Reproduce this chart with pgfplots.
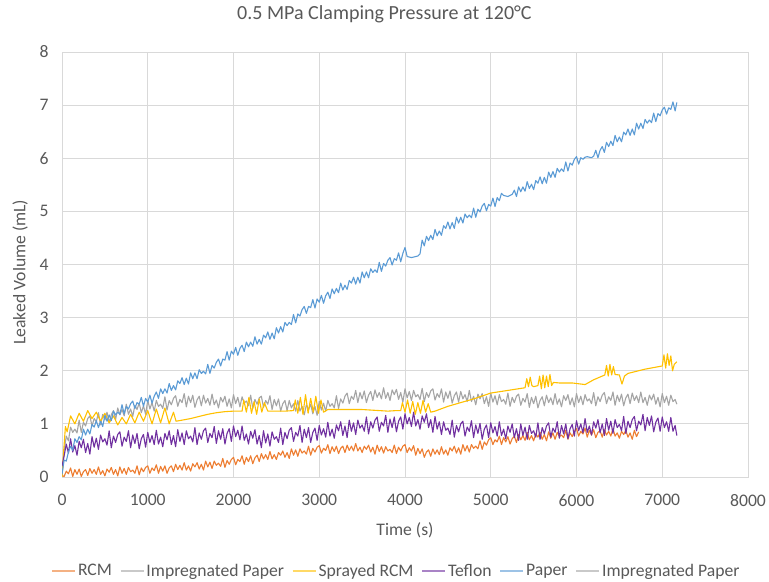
\documentclass[border=0pt]{standalone}
\usepackage{fontspec}
\setmainfont{Carlito}
\usepackage{pgfplots}
\pgfplotsset{compat=1.18}
\definecolor{cOr}{HTML}{ED7D31}
\definecolor{cGr}{HTML}{A5A5A5}
\definecolor{cYe}{HTML}{FFC000}
\definecolor{cPu}{HTML}{7030A0}
\definecolor{cBl}{HTML}{5B9BD5}
\definecolor{cTx}{HTML}{595959}
\definecolor{cGd}{HTML}{D9D9D9}
\begin{document}
\begin{tikzpicture}
\begin{axis}[
  scale only axis, width=686bp, height=425bp,
  xmin=0, xmax=8000, ymin=0, ymax=8,
  xtick={0,1000,...,8000}, ytick={0,1,...,8},
  /pgf/number format/assume math mode=true,
  /pgf/number format/set thousands separator={},
  scaled x ticks=false,
  grid=major, major grid style={cGd, line width=0.75bp},
  axis line style={cGd, line width=0.75bp},
  tick style={draw=none},
  ticklabel style={font=\fontsize{17.7}{21}\selectfont, text=cTx},
  xticklabel style={yshift=-14bp},
  yticklabel style={xshift=-10bp},
  title={0.5 MPa Clamping Pressure at 120°C},
  title style={font=\fontsize{20.1}{24}\selectfont, text=cTx, at={(axis description cs:0.47,1.075)}, anchor=center},
  xlabel={Time (s)},
  xlabel style={font=\fontsize{17.7}{21}\selectfont, text=cTx, at={(axis description cs:0.5,-0.125)}, anchor=center},
  ylabel={Leaked Volume (mL)},
  ylabel style={font=\fontsize{17.7}{21}\selectfont, text=cTx, at={(axis description cs:-0.061,0.482)}, anchor=center},
  legend columns=6,
  legend style={draw=none, fill=none, font=\fontsize{17.7}{21}\selectfont, text=cTx,
    at={(axis description cs:0.4876,-0.221)}, anchor=center,
    /tikz/every even column/.append style={column sep=6bp}},
  legend image code/.code={\draw[#1, line width=1.6bp, opacity=0.6] (0bp,0bp) -- (23bp,0bp);},
  every axis plot/.append style={line width=1.1bp, line join=round},
]
% RCM
\addplot[cOr] coordinates {
(0,0.03)(25,0.01)(50,0.11)(75,0.06)(100,0.17)(125,0.01)(150,0.14)(175,0.05)(200,0.15)(225,0.01)
(250,0.10)(275,0.14)(300,0.03)(325,0.16)(350,0.07)(375,0.14)(400,0.05)(425,0.19)(450,0.05)(475,0.12)
(500,0.02)(525,0.15)(550,0.09)(575,0.18)(600,0.05)(625,0.14)(650,0.02)(675,0.19)(700,0.07)(725,0.16)
(750,0.05)(775,0.18)(800,0.10)(825,0.13)(850,0.07)(875,0.21)(900,0.04)(925,0.17)(950,0.10)(975,0.18)
(1000,0.21)(1025,0.07)(1050,0.17)(1075,0.12)(1100,0.23)(1125,0.07)(1150,0.20)(1175,0.11)(1200,0.21)(1225,0.07)
(1250,0.17)(1275,0.21)(1300,0.10)(1325,0.24)(1350,0.14)(1375,0.22)(1400,0.13)(1425,0.27)(1450,0.13)(1475,0.21)
(1500,0.11)(1525,0.25)(1550,0.19)(1575,0.27)(1600,0.15)(1625,0.24)(1650,0.13)(1675,0.30)(1700,0.19)(1725,0.28)
(1750,0.16)(1775,0.30)(1800,0.22)(1825,0.26)(1850,0.20)(1875,0.35)(1900,0.18)(1925,0.31)(1950,0.24)(1975,0.33)
(2000,0.37)(2025,0.23)(2050,0.33)(2075,0.29)(2100,0.40)(2125,0.24)(2150,0.37)(2175,0.29)(2200,0.40)(2225,0.25)
(2250,0.36)(2275,0.41)(2300,0.29)(2325,0.44)(2350,0.34)(2375,0.42)(2400,0.33)(2425,0.48)(2450,0.34)(2475,0.42)
(2500,0.33)(2525,0.46)(2550,0.41)(2575,0.49)(2600,0.37)(2625,0.46)(2650,0.35)(2675,0.53)(2700,0.41)(2725,0.51)
(2750,0.39)(2775,0.53)(2800,0.45)(2825,0.49)(2850,0.43)(2875,0.58)(2900,0.41)(2925,0.54)(2950,0.47)(2975,0.56)
(3000,0.59)(3025,0.45)(3050,0.54)(3075,0.50)(3100,0.61)(3125,0.44)(3150,0.57)(3175,0.48)(3200,0.58)(3225,0.44)
(3250,0.54)(3275,0.58)(3300,0.46)(3325,0.60)(3350,0.50)(3375,0.58)(3400,0.49)(3425,0.63)(3450,0.49)(3475,0.56)
(3500,0.46)(3525,0.58)(3550,0.52)(3575,0.60)(3600,0.47)(3625,0.56)(3650,0.43)(3675,0.60)(3700,0.48)(3725,0.57)
(3750,0.45)(3775,0.57)(3800,0.49)(3825,0.52)(3850,0.46)(3875,0.60)(3900,0.44)(3925,0.56)(3950,0.49)(3975,0.58)
(4000,0.61)(4025,0.46)(4050,0.55)(4075,0.49)(4100,0.59)(4125,0.41)(4150,0.54)(4175,0.44)(4200,0.53)(4225,0.37)
(4250,0.47)(4275,0.51)(4300,0.39)(4325,0.53)(4350,0.43)(4375,0.51)(4400,0.42)(4425,0.57)(4450,0.43)(4475,0.51)
(4500,0.41)(4525,0.55)(4550,0.49)(4575,0.58)(4600,0.45)(4625,0.55)(4650,0.43)(4675,0.61)(4700,0.49)(4725,0.59)
(4750,0.47)(4775,0.61)(4800,0.54)(4825,0.58)(4850,0.53)(4875,0.68)(4900,0.52)(4925,0.66)(4950,0.60)(4975,0.70)
(5000,0.74)(5025,0.61)(5050,0.70)(5075,0.66)(5100,0.77)(5125,0.61)(5150,0.74)(5175,0.66)(5200,0.76)(5225,0.62)
(5250,0.72)(5275,0.77)(5300,0.65)(5325,0.80)(5350,0.70)(5375,0.78)(5400,0.69)(5425,0.84)(5450,0.70)(5475,0.78)
(5500,0.68)(5525,0.81)(5550,0.75)(5575,0.84)(5600,0.71)(5625,0.80)(5650,0.68)(5675,0.85)(5700,0.73)(5725,0.83)
(5750,0.71)(5775,0.84)(5800,0.76)(5825,0.79)(5850,0.74)(5875,0.88)(5900,0.71)(5925,0.83)(5950,0.76)(5975,0.86)
(6000,0.91)(6025,0.77)(6050,0.86)(6075,0.81)(6100,0.92)(6125,0.75)(6150,0.88)(6175,0.79)(6200,0.89)(6225,0.74)
(6250,0.84)(6275,0.87)(6300,0.75)(6325,0.89)(6350,0.79)(6375,0.86)(6400,0.77)(6425,0.91)(6450,0.77)(6475,0.83)
(6500,0.73)(6525,0.86)(6550,0.80)(6575,0.88)(6600,0.75)(6625,0.83)(6650,0.71)(6675,0.88)(6700,0.76)(6725,0.85)
};
% Impregnated Paper
\addplot[cGr] coordinates {
(0,0.00)(25,0.50)(50,0.77)(75,0.68)(100,0.94)(125,0.84)(150,0.90)(175,0.83)(200,1.07)(225,0.84)
(250,1.03)(275,0.96)(300,1.10)(325,1.15)(350,0.96)(375,1.10)(400,1.04)(425,1.21)(450,0.98)(475,1.18)
(500,1.07)(525,1.22)(550,1.02)(575,1.17)(600,1.25)(625,1.08)(650,1.30)(675,1.17)(700,1.27)(725,1.15)
(750,1.37)(775,1.18)(800,1.28)(825,1.14)(850,1.35)(875,1.27)(900,1.39)(925,1.21)(950,1.34)(975,1.18)
(1000,1.44)(1025,1.28)(1050,1.40)(1075,1.24)(1100,1.44)(1125,1.33)(1150,1.37)(1175,1.29)(1200,1.51)(1225,1.26)
(1250,1.44)(1275,1.36)(1300,1.48)(1325,1.53)(1350,1.33)(1375,1.46)(1400,1.40)(1425,1.57)(1450,1.32)(1475,1.52)
(1500,1.40)(1525,1.54)(1550,1.31)(1575,1.45)(1600,1.52)(1625,1.34)(1650,1.54)(1675,1.39)(1700,1.48)(1725,1.35)
(1750,1.56)(1775,1.36)(1800,1.45)(1825,1.30)(1850,1.50)(1875,1.41)(1900,1.52)(1925,1.33)(1950,1.47)(1975,1.30)
(2000,1.55)(2025,1.38)(2050,1.50)(2075,1.32)(2100,1.51)(2125,1.39)(2150,1.43)(2175,1.34)(2200,1.54)(2225,1.29)
(2250,1.46)(2275,1.37)(2300,1.49)(2325,1.52)(2350,1.31)(2375,1.44)(2400,1.37)(2425,1.53)(2450,1.27)(2475,1.46)
(2500,1.34)(2525,1.47)(2550,1.24)(2575,1.38)(2600,1.44)(2625,1.25)(2650,1.44)(2675,1.30)(2700,1.38)(2725,1.24)
(2750,1.44)(2775,1.24)(2800,1.33)(2825,1.17)(2850,1.36)(2875,1.27)(2900,1.37)(2925,1.19)(2950,1.33)(2975,1.16)
(3000,1.42)(3025,1.26)(3050,1.39)(3075,1.24)(3100,1.44)(3125,1.33)(3150,1.38)(3175,1.30)(3200,1.53)(3225,1.29)
(3250,1.47)(3275,1.39)(3300,1.52)(3325,1.58)(3350,1.38)(3375,1.52)(3400,1.46)(3425,1.63)(3450,1.40)(3475,1.59)
(3500,1.47)(3525,1.62)(3550,1.40)(3575,1.54)(3600,1.61)(3625,1.44)(3650,1.64)(3675,1.50)(3700,1.59)(3725,1.47)
(3750,1.68)(3775,1.48)(3800,1.59)(3825,1.44)(3850,1.64)(3875,1.55)(3900,1.65)(3925,1.46)(3950,1.59)(3975,1.41)
(4000,1.66)(4025,1.49)(4050,1.61)(4075,1.44)(4100,1.63)(4125,1.51)(4150,1.55)(4175,1.46)(4200,1.67)(4225,1.42)
(4250,1.59)(4275,1.50)(4300,1.62)(4325,1.66)(4350,1.45)(4375,1.57)(4400,1.50)(4425,1.66)(4450,1.41)(4475,1.60)
(4500,1.48)(4525,1.62)(4550,1.39)(4575,1.53)(4600,1.60)(4625,1.41)(4650,1.61)(4675,1.47)(4700,1.55)(4725,1.42)
(4750,1.63)(4775,1.42)(4800,1.52)(4825,1.36)(4850,1.56)(4875,1.47)(4900,1.57)(4925,1.38)(4950,1.51)(4975,1.33)
(5000,1.58)(5025,1.41)(5050,1.53)(5075,1.36)(5100,1.55)(5125,1.42)(5150,1.46)(5175,1.37)(5200,1.58)(5225,1.33)
(5250,1.50)(5275,1.40)(5300,1.52)(5325,1.56)(5350,1.35)(5375,1.48)(5400,1.41)(5425,1.57)(5450,1.31)(5475,1.50)
(5500,1.38)(5525,1.52)(5550,1.30)(5575,1.44)(5600,1.51)(5625,1.34)(5650,1.54)(5675,1.40)(5700,1.49)(5725,1.36)
(5750,1.57)(5775,1.37)(5800,1.47)(5825,1.32)(5850,1.53)(5875,1.44)(5900,1.55)(5925,1.36)(5950,1.49)(5975,1.32)
(6000,1.57)(6025,1.40)(6050,1.52)(6075,1.36)(6100,1.55)(6125,1.43)(6150,1.47)(6175,1.38)(6200,1.59)(6225,1.34)
(6250,1.51)(6275,1.42)(6300,1.54)(6325,1.59)(6350,1.38)(6375,1.51)(6400,1.44)(6425,1.60)(6450,1.35)(6475,1.54)
(6500,1.42)(6525,1.56)(6550,1.34)(6575,1.49)(6600,1.56)(6625,1.38)(6650,1.58)(6675,1.44)(6700,1.53)(6725,1.40)
(6750,1.60)(6775,1.40)(6800,1.50)(6825,1.35)(6850,1.54)(6875,1.45)(6900,1.56)(6925,1.37)(6950,1.50)(6975,1.32)
(7000,1.57)(7025,1.40)(7050,1.52)(7075,1.35)(7100,1.54)(7125,1.42)(7150,1.46)(7170,1.37)
};
% Sprayed RCM
\addplot[cYe] coordinates {
(0,0)(20,0.50)(40,0.95)(60,0.85)(100,1.15)(150,1.00)(200,1.20)(250,1.05)(300,1.25)(350,1.10)
(400,1.22)(450,1.05)(500,1.20)(550,1.02)(600,1.15)(650,0.98)(700,1.12)(750,1.00)(800,1.18)(850,1.02)
(900,1.22)(950,1.05)(1000,1.25)(1050,1.00)(1100,1.28)(1150,1.02)(1200,1.30)(1250,1.00)(1300,1.22)(1330,1.05)
(1400,1.07)(1500,1.10)(1600,1.14)(1700,1.18)(1800,1.21)(1900,1.23)(2000,1.24)(2100,1.24)(2120,1.45)(2150,1.22)
(2180,1.50)(2210,1.20)(2240,1.42)(2270,1.18)(2300,1.47)(2330,1.22)(2360,1.40)(2400,1.24)(2500,1.24)(2600,1.24)
(2700,1.25)(2720,1.45)(2750,1.20)(2780,1.50)(2810,1.18)(2840,1.55)(2870,1.20)(2900,1.48)(2930,1.22)(2960,1.52)
(2990,1.20)(3020,1.45)(3050,1.22)(3100,1.27)(3300,1.27)(3500,1.27)(3700,1.25)(3800,1.24)(3900,1.25)(3950,1.25)
(3970,1.40)(4000,1.22)(4030,1.45)(4060,1.20)(4090,1.42)(4120,1.18)(4150,1.40)(4180,1.20)(4210,1.44)(4240,1.22)
(4270,1.38)(4300,1.22)(4350,1.24)(4500,1.33)(4670,1.41)(4800,1.47)(5000,1.58)(5200,1.63)(5400,1.68)(5420,1.85)
(5440,1.70)(5460,1.88)(5480,1.72)(5500,1.70)(5550,1.72)(5570,1.90)(5590,1.66)(5610,1.92)(5630,1.68)(5650,1.90)
(5670,1.70)(5690,1.93)(5710,1.72)(5730,1.78)(5800,1.77)(5950,1.77)(6100,1.74)(6200,1.83)(6300,1.90)(6330,1.92)
(6350,2.10)(6370,1.90)(6390,2.12)(6410,1.92)(6430,2.08)(6450,1.93)(6500,1.92)(6530,1.75)(6560,1.90)(6600,1.95)
(6700,1.99)(6800,2.03)(6900,2.06)(7000,2.09)(7020,2.30)(7040,2.05)(7060,2.32)(7080,2.10)(7100,2.28)(7120,2.00)
(7140,2.12)(7170,2.17)
};
% Teflon
\addplot[cPu] coordinates {
(0,0.20)(25,0.40)(50,0.62)(75,0.45)(100,0.72)(125,0.47)(150,0.59)(175,0.41)(200,0.67)(225,0.55)
(250,0.71)(275,0.46)(300,0.63)(325,0.43)(350,0.76)(375,0.56)(400,0.73)(425,0.52)(450,0.79)(475,0.66)
(500,0.72)(525,0.60)(550,0.87)(575,0.55)(600,0.77)(625,0.65)(650,0.80)(675,0.85)(700,0.58)(725,0.75)
(750,0.67)(775,0.87)(800,0.55)(825,0.79)(850,0.63)(875,0.82)(900,0.53)(925,0.72)(950,0.80)(975,0.56)
(1000,0.84)(1025,0.65)(1050,0.78)(1075,0.61)(1100,0.88)(1125,0.62)(1150,0.75)(1175,0.57)(1200,0.82)(1225,0.70)
(1250,0.87)(1275,0.61)(1300,0.78)(1325,0.57)(1350,0.89)(1375,0.67)(1400,0.83)(1425,0.61)(1450,0.87)(1475,0.72)
(1500,0.77)(1525,0.66)(1550,0.93)(1575,0.61)(1600,0.83)(1625,0.71)(1650,0.87)(1675,0.92)(1700,0.65)(1725,0.82)
(1750,0.74)(1775,0.95)(1800,0.63)(1825,0.87)(1850,0.71)(1875,0.91)(1900,0.62)(1925,0.82)(1950,0.91)(1975,0.67)
(2000,0.96)(2025,0.76)(2050,0.88)(2075,0.70)(2100,0.96)(2125,0.69)(2150,0.81)(2175,0.62)(2200,0.86)(2225,0.73)
(2250,0.89)(2275,0.62)(2300,0.78)(2325,0.55)(2350,0.87)(2375,0.64)(2400,0.81)(2425,0.58)(2450,0.85)(2475,0.71)
(2500,0.76)(2525,0.65)(2550,0.92)(2575,0.61)(2600,0.84)(2625,0.72)(2650,0.88)(2675,0.93)(2700,0.67)(2725,0.84)
(2750,0.77)(2775,0.97)(2800,0.65)(2825,0.90)(2850,0.74)(2875,0.93)(2900,0.65)(2925,0.84)(2950,0.92)(2975,0.69)
(3000,0.97)(3025,0.79)(3050,0.91)(3075,0.75)(3100,1.03)(3125,0.77)(3150,0.90)(3175,0.73)(3200,0.98)(3225,0.87)
(3250,1.04)(3275,0.78)(3300,0.96)(3325,0.74)(3350,1.07)(3375,0.86)(3400,1.02)(3425,0.80)(3450,1.07)(3475,0.92)
(3500,0.98)(3525,0.86)(3550,1.13)(3575,0.81)(3600,1.04)(3625,0.92)(3650,1.07)(3675,1.13)(3700,0.86)(3725,1.03)
(3750,0.96)(3775,1.16)(3800,0.84)(3825,1.09)(3850,0.93)(3875,1.13)(3900,0.85)(3925,1.05)(3950,1.13)(3975,0.90)
(4000,1.19)(4025,1.00)(4050,1.12)(4075,0.95)(4100,1.22)(4125,0.96)(4150,1.08)(4175,0.90)(4200,1.15)(4225,1.03)
(4250,1.19)(4275,0.93)(4300,1.08)(4325,0.84)(4350,1.14)(4375,0.90)(4400,1.04)(4425,0.80)(4450,1.04)(4475,0.88)
(4500,0.92)(4525,0.80)(4550,1.07)(4575,0.75)(4600,0.97)(4625,0.85)(4650,1.00)(4675,1.05)(4700,0.77)(4725,0.94)
(4750,0.86)(4775,1.06)(4800,0.74)(4825,0.98)(4850,0.82)(4875,1.01)(4900,0.71)(4925,0.90)(4950,0.98)(4975,0.74)
(5000,1.02)(5025,0.83)(5050,0.95)(5075,0.77)(5100,1.04)(5125,0.78)(5150,0.90)(5175,0.72)(5200,0.96)(5225,0.84)
(5250,1.00)(5275,0.74)(5300,0.91)(5325,0.69)(5350,1.00)(5375,0.78)(5400,0.94)(5425,0.71)(5450,0.97)(5475,0.82)
(5500,0.87)(5525,0.75)(5550,1.02)(5575,0.71)(5600,0.93)(5625,0.81)(5650,0.96)(5675,1.02)(5700,0.75)(5725,0.92)
(5750,0.84)(5775,1.04)(5800,0.73)(5825,0.97)(5850,0.81)(5875,1.00)(5900,0.72)(5925,0.91)(5950,0.99)(5975,0.77)
(6000,1.06)(6025,0.87)(6050,1.00)(6075,0.83)(6100,1.10)(6125,0.84)(6150,0.96)(6175,0.79)(6200,1.04)(6225,0.92)
(6250,1.08)(6275,0.83)(6300,1.00)(6325,0.78)(6350,1.10)(6375,0.88)(6400,1.05)(6425,0.82)(6450,1.08)(6475,0.93)
(6500,0.99)(6525,0.87)(6550,1.14)(6575,0.82)(6600,1.05)(6625,0.93)(6650,1.08)(6675,1.14)(6700,0.87)(6725,1.05)
(6750,0.98)(6775,1.18)(6800,0.87)(6825,1.12)(6850,0.97)(6875,1.15)(6900,0.85)(6925,1.03)(6950,1.11)(6975,0.86)
(7000,1.13)(7025,0.93)(7050,1.04)(7075,0.86)(7100,1.12)(7125,0.86)(7150,0.97)(7170,0.78)
};
% Paper
\addplot[cBl] coordinates {
(0,0.05)(25,0.32)(50,0.30)(75,0.47)(100,0.58)(125,0.50)(150,0.72)(175,0.65)(200,0.76)(225,0.70)
(250,0.90)(275,0.79)(300,0.90)(325,0.81)(350,0.99)(375,0.94)(400,1.06)(425,0.93)(450,1.05)(475,0.95)
(500,1.16)(525,1.05)(550,1.17)(575,1.06)(600,1.24)(625,1.17)(650,1.22)(675,1.18)(700,1.36)(725,1.19)
(750,1.33)(775,1.28)(800,1.38)(825,1.43)(850,1.29)(875,1.40)(900,1.37)(925,1.50)(950,1.33)(975,1.48)
(1000,1.41)(1025,1.54)(1050,1.39)(1075,1.52)(1100,1.60)(1125,1.48)(1150,1.66)(1175,1.57)(1200,1.66)(1225,1.58)
(1250,1.76)(1275,1.63)(1300,1.72)(1325,1.64)(1350,1.81)(1375,1.76)(1400,1.87)(1425,1.74)(1450,1.86)(1475,1.75)
(1500,1.96)(1525,1.85)(1550,1.96)(1575,1.85)(1600,2.02)(1625,1.95)(1650,1.99)(1675,1.94)(1700,2.12)(1725,1.95)
(1750,2.10)(1775,2.05)(1800,2.16)(1825,2.22)(1850,2.09)(1875,2.22)(1900,2.20)(1925,2.36)(1950,2.20)(1975,2.37)
(2000,2.31)(2025,2.44)(2050,2.29)(2075,2.42)(2100,2.48)(2125,2.36)(2150,2.54)(2175,2.45)(2200,2.54)(2225,2.46)
(2250,2.64)(2275,2.50)(2300,2.59)(2325,2.50)(2350,2.67)(2375,2.62)(2400,2.73)(2425,2.59)(2450,2.71)(2475,2.60)
(2500,2.81)(2525,2.71)(2550,2.83)(2575,2.73)(2600,2.91)(2625,2.85)(2650,2.91)(2675,2.87)(2700,3.06)(2725,2.90)
(2750,3.07)(2775,3.03)(2800,3.15)(2825,3.21)(2850,3.08)(2875,3.21)(2900,3.19)(2925,3.34)(2950,3.18)(2975,3.35)
(3000,3.29)(3025,3.42)(3050,3.27)(3075,3.41)(3100,3.48)(3125,3.36)(3150,3.54)(3175,3.45)(3200,3.55)(3225,3.47)
(3250,3.65)(3275,3.52)(3300,3.61)(3325,3.53)(3350,3.70)(3375,3.65)(3400,3.76)(3425,3.63)(3450,3.76)(3475,3.65)
(3500,3.86)(3525,3.75)(3550,3.86)(3575,3.75)(3600,3.92)(3625,3.85)(3650,3.90)(3675,3.85)(3700,4.04)(3725,3.87)
(3750,4.02)(3775,3.97)(3800,4.08)(3825,4.13)(3850,3.99)(3875,4.11)(3900,4.08)(3925,4.22)(3950,4.05)(3975,4.21)
(4000,4.32)(4025,4.15)(4050,4.14)(4075,4.13)(4100,4.14)(4125,4.15)(4150,4.16)(4175,4.20)(4200,4.46)(4225,4.35)
(4250,4.53)(4275,4.45)(4300,4.55)(4325,4.47)(4350,4.66)(4375,4.54)(4400,4.63)(4425,4.55)(4450,4.73)(4475,4.68)
(4500,4.80)(4525,4.67)(4550,4.79)(4575,4.68)(4600,4.89)(4625,4.78)(4650,4.89)(4675,4.78)(4700,4.95)(4725,4.88)
(4750,4.93)(4775,4.88)(4800,5.06)(4825,4.89)(4850,5.04)(4875,4.99)(4900,5.10)(4925,5.15)(4950,5.01)(4975,5.13)
(5000,5.10)(5025,5.25)(5050,5.09)(5075,5.26)(5100,5.20)(5125,5.34)(5150,5.30)(5175,5.29)(5200,5.28)(5225,5.30)
(5250,5.32)(5275,5.40)(5300,5.28)(5325,5.46)(5350,5.37)(5375,5.46)(5400,5.38)(5425,5.56)(5450,5.43)(5475,5.51)
(5500,5.41)(5525,5.58)(5550,5.53)(5575,5.65)(5600,5.52)(5625,5.64)(5650,5.53)(5675,5.74)(5700,5.64)(5725,5.75)
(5750,5.64)(5775,5.81)(5800,5.74)(5825,5.80)(5850,5.75)(5875,5.93)(5900,5.76)(5925,5.91)(5950,5.87)(5975,5.98)
(6000,6.03)(6025,5.89)(6050,6.01)(6075,5.98)(6100,6.02)(6125,6.03)(6150,6.02)(6175,6.01)(6200,6.04)(6225,6.15)
(6250,6.01)(6275,6.15)(6300,6.22)(6325,6.11)(6350,6.30)(6375,6.22)(6400,6.32)(6425,6.24)(6450,6.43)(6475,6.31)
(6500,6.40)(6525,6.31)(6550,6.49)(6575,6.44)(6600,6.55)(6625,6.43)(6650,6.55)(6675,6.44)(6700,6.66)(6725,6.55)
(6750,6.66)(6775,6.56)(6800,6.73)(6825,6.66)(6850,6.72)(6875,6.67)(6900,6.85)(6925,6.69)(6950,6.84)(6975,6.80)
(7000,6.91)(7025,6.96)(7050,6.83)(7075,6.95)(7100,6.92)(7125,7.06)(7150,6.89)(7170,7.05)
};
\addlegendentry{RCM}
\addlegendentry{Impregnated Paper}
\addlegendentry{Sprayed RCM}
\addlegendentry{Teflon}
\addlegendentry{Paper}
\addlegendimage{cGr}
\addlegendentry{Impregnated Paper}
\end{axis}
\pgfresetboundingbox
\useasboundingbox ([xshift=-62bp,yshift=-105bp]current axis.south west) rectangle ([xshift=21bp,yshift=52bp]current axis.north east);
\end{tikzpicture}
\end{document}
